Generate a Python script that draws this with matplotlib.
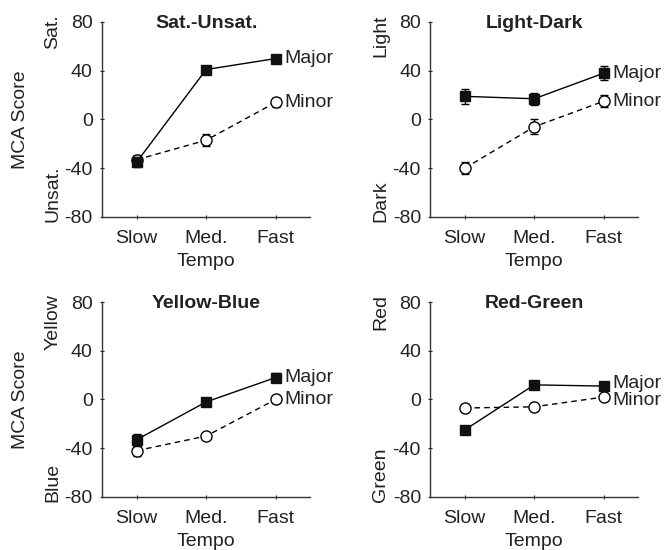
import matplotlib.pyplot as plt

plt.rcParams["font.family"] = ["Liberation Sans", "DejaVu Sans"]
plt.rcParams["axes.unicode_minus"] = False
plt.rcParams["text.color"] = "#222222"
plt.rcParams["axes.labelcolor"] = "#222222"
plt.rcParams["xtick.color"] = "#222222"
plt.rcParams["ytick.color"] = "#222222"

tempos = ["Slow", "Med.", "Fast"]
titles = ["Sat.-Unsat.", "Light-Dark", "Yellow-Blue", "Red-Green"]
top_labels = ["Sat.", "Light", "Yellow", "Red"]
bottom_labels = ["Unsat.", "Dark", "Blue", "Green"]

major_mean = [[-35, 41, 50], [19, 17, 38], [-33, -2, 18], [-25, 12, 11]]
major_err = [[4, 3, 3], [6, 5, 6], [5, 3, 4], [2, 2, 2]]
minor_mean = [[-33, -17, 14], [-40, -6, 15], [-42, -30, 0], [-7, -6, 2]]
minor_err = [[4, 5, 4], [5, 6, 5], [4, 2, 3], [2, 2, 2]]

fs = 14

fig = plt.figure(figsize=(6.66, 5.5), dpi=100)
lefts = [0.153, 0.6456, 0.153, 0.6456]
bottoms = [0.6055, 0.6055, 0.0964, 0.0964]
x = [1, 2, 3]

for i in range(4):
    ax = fig.add_axes([lefts[i], bottoms[i], 0.313, 0.3545])
    ax.errorbar(x, major_mean[i], yerr=major_err[i], color="black", lw=1,
                marker="s", ms=7, mfc="#111111", mec="#111111",
                capsize=3, elinewidth=1, capthick=1, zorder=3)
    ax.errorbar(x, minor_mean[i], yerr=minor_err[i], color="black", lw=1,
                ls=(0, (4, 3)), marker="o", ms=8, mfc="white", mec="black",
                mew=1, capsize=3, elinewidth=1, capthick=1, zorder=2)

    ya, yb = major_mean[i][-1], minor_mean[i][-1]
    nudge = max(0, (14 - (ya - yb)) / 2)
    ax.annotate("Major", (3, ya + nudge), xytext=(6, 0), textcoords="offset points",
                va="center", ha="left", fontsize=fs, annotation_clip=False)
    ax.annotate("Minor", (3, yb - nudge), xytext=(6, 0), textcoords="offset points",
                va="center", ha="left", fontsize=fs, annotation_clip=False)

    ax.set_xlim(0.5, 3.5)
    ax.set_ylim(-80, 80)
    ax.set_xticks(x)
    ax.set_xticklabels(tempos)
    ax.set_yticks([-80, -40, 0, 40, 80])
    ax.tick_params(direction="inout", length=3, width=0.8, labelsize=fs, pad=5)
    ax.tick_params(axis="x", pad=8)
    for side in ["top", "right"]:
        ax.spines[side].set_visible(False)
    for side in ["left", "bottom"]:
        ax.spines[side].set_color("#333333")
        ax.spines[side].set_linewidth(1)
    ax.set_xlabel("Tempo", fontsize=fs, labelpad=4)

    ax.text(0.5, 0.99, titles[i], transform=ax.transAxes, ha="center",
            va="center", fontsize=fs, fontweight="bold")
    ax.text(-0.235, 1.04, top_labels[i], transform=ax.transAxes, rotation=90,
            ha="center", va="top", fontsize=fs)
    ax.text(-0.235, -0.026, bottom_labels[i], transform=ax.transAxes, rotation=90,
            ha="center", va="bottom", fontsize=fs)

    if i % 2 == 0:
        ax.text(-0.39, 0.5, "MCA Score", transform=ax.transAxes, rotation=90,
                ha="center", va="center", fontsize=fs)

fig.savefig("out.png", dpi=100)
